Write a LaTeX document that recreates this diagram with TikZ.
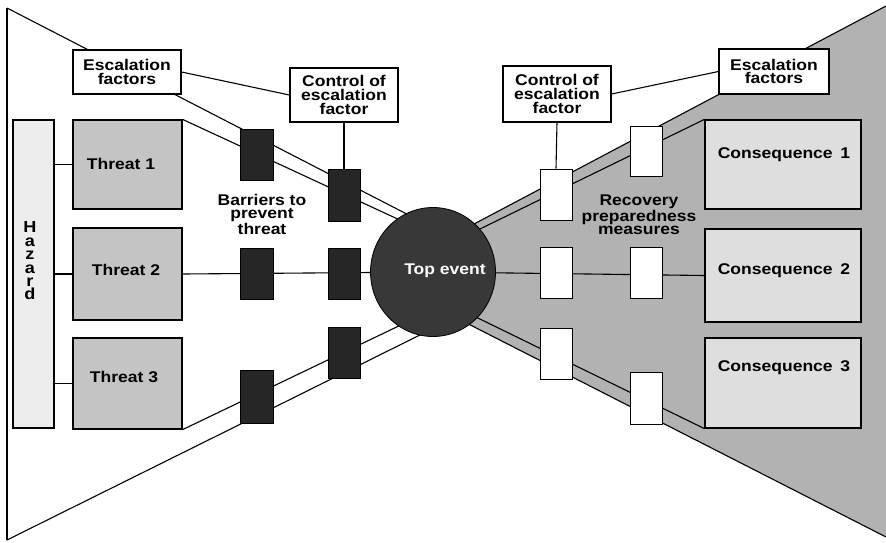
\documentclass[tikz,border=0pt]{standalone}
\usepackage{fontspec}
\setmainfont[FakeStretch=1.13]{Liberation Sans}
\usetikzlibrary{backgrounds,shapes.geometric}
\definecolor{shadec}{gray}{0.7}
\definecolor{consc}{gray}{0.87}
\definecolor{threatc}{gray}{0.77}
\definecolor{hazc}{gray}{0.93}
\definecolor{barc}{gray}{0.15}
\definecolor{topc}{gray}{0.22}
\begin{document}
\begin{tikzpicture}[x=1pt,y=-1pt,
  txt/.style={font=\bfseries\fontsize{15.5}{13.6}\selectfont, align=center, inner sep=0pt},
  box/.style={draw, line width=1.2pt, inner sep=0pt, fill=white},
  barrier/.style={draw, line width=1pt, fill=barc, minimum width=33pt, minimum height=51pt, inner sep=0pt},
  recov/.style={draw, line width=1pt, fill=white, minimum width=32pt, minimum height=51pt, inner sep=0pt},
  bline/.style={line width=1.1pt}]
\useasboundingbox (0,0) rectangle (886,542);

% outer corners of the bow tie
\coordinate (tl) at (7,8);
\coordinate (bl) at (7,540);
\coordinate (tr) at (886,6);
\coordinate (br) at (886,537);
% line ends hidden under the top event
\coordinate (a1) at (430,226);
\coordinate (a2) at (430,234);
\coordinate (a4) at (430,311);
\coordinate (a5) at (430,330);
\coordinate (b1) at (440,242);
\coordinate (b2) at (440,248.5);
\coordinate (b4) at (440,299.5);
\coordinate (b5) at (440,309.5);

% escalation factors and their controls
\node[box, txt, minimum width=108pt, minimum height=44pt] (escL) at (127,72) {Escalation\\factors};
\node[box, txt, minimum width=108pt, minimum height=54pt] (ctlL) at (344,95) {Control of\\escalation\\factor};
\node[box, txt, minimum width=108pt, minimum height=56pt] (ctlR) at (557,94) {Control of\\escalation\\factor};
\node[box, txt, minimum width=110pt, minimum height=45pt] (escR) at (774,71.5) {Escalation\\factors};

% hazard and threats
\node[box, fill=hazc, minimum width=41pt, minimum height=308pt] (hazard) at (33.5,274) {};
\node[txt, font=\bfseries\fontsize{16}{13.4}\selectfont] (hazlbl) at (30,261) {H\\a\\z\\a\\r\\d};
\node[box, fill=threatc, minimum width=109pt, minimum height=89pt] (thr1) at (127.5,164.5) {};
\node[box, fill=threatc, minimum width=109pt, minimum height=92pt] (thr2) at (127.5,274) {};
\node[box, fill=threatc, minimum width=109pt, minimum height=91pt] (thr3) at (127.5,383.5) {};
\node[txt] (thr1lbl) at (121,164) {Threat 1};
\node[txt] (thr2lbl) at (126,270) {Threat 2};
\node[txt] (thr3lbl) at (124,377) {Threat 3};

% prevention barriers
\node[barrier] (p11) at (256.5,154.5) {};
\node[barrier] (p12) at (256.5,273.5) {};
\node[barrier, minimum height=53pt] (p13) at (256.5,396.5) {};
\node[barrier, minimum width=32pt, minimum height=52pt] (p21) at (344,195) {};
\node[barrier, minimum width=32pt] (p22) at (344,273.5) {};
\node[barrier, minimum width=32pt] (p23) at (344,352.5) {};
\node[txt] (barlbl) at (262,214) {Barriers to\\prevent\\threat};

% top event
\node[ellipse, draw, line width=0.8pt, fill=topc, minimum width=125pt, minimum height=129pt, inner sep=0pt] (top) at (433,272) {};
\node[txt, text=white] (toplbl) at (445,271) {Top event};

% recovery measures
\node[recov] (r11) at (556,194.5) {};
\node[recov] (r12) at (556,272.5) {};
\node[recov] (r13) at (556,353.5) {};
\node[recov, minimum height=50pt] (r21) at (646,151) {};
\node[recov] (r22) at (646,272.5) {};
\node[recov, minimum height=52pt] (r23) at (646,398) {};
\node[txt] (reclbl) at (639,215) {Recovery\\preparedness\\measures};

% consequences
\node[box, fill=consc, minimum width=156pt, minimum height=89pt] (cons1) at (783,164.5) {};
\node[box, fill=consc, minimum width=156pt, minimum height=93pt] (cons2) at (783,275.5) {};
\node[box, fill=consc, minimum width=156pt, minimum height=90pt] (cons3) at (783,383) {};
\node[txt] (c1lbl) at (784,155) {Consequence\enspace 1};
\node[txt] (c2lbl) at (784,271) {Consequence\enspace 2};
\node[txt] (c3lbl) at (784,368) {Consequence\enspace 3};

% connectors between boxes
\draw[bline] (hazard.east |- thr1.west) -- (thr1.west);
\draw[bline] (hazard.east |- thr2.west) -- (thr2.west);
\draw[bline] (hazard.east |- thr3.west) -- (thr3.west);
\draw[bline] (escL.east) -- (ctlL.west);
\draw[bline] (ctlR.east) -- (escR.west);
\draw[bline] (ctlL.south) -- (p21.north);
\draw[bline] (ctlR.south) -- (r11.north);

\begin{scope}[on background layer]
  % shaded consequence side
  \fill[shadec] (tr) -- (b1) -- (b5) -- (br) -- cycle;
  % threat side
  \draw[bline] (tl) -- (bl);
  \draw[bline] (tl) -- (a1);
  \draw[bline] (thr1.north east) -- (a2);
  \draw[bline] (thr2.east) -- (top.center);
  \draw[bline] (thr3.south east) -- (a4);
  \draw[bline] (bl) -- (a5);
  % consequence side
  \draw[bline] (tr) -- (b1);
  \draw[bline] (cons1.north west) -- (b2);
  \draw[bline] (cons2.west) -- (top.center);
  \draw[bline] (cons3.south west) -- (b4);
  \draw[bline] (br) -- (b5);
\end{scope}
\end{tikzpicture}
\end{document}
